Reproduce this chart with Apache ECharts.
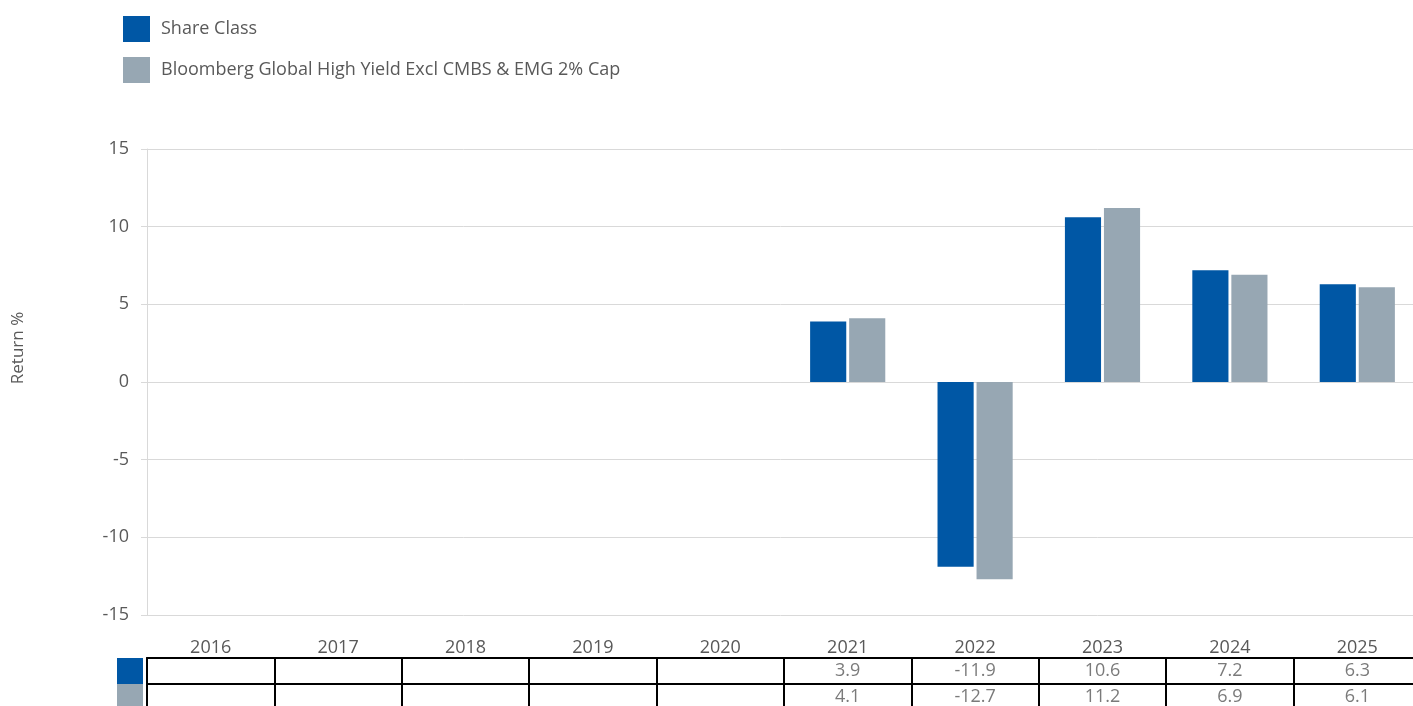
<!DOCTYPE html>
<html>
<head>
<meta charset="utf-8">
<script src="https://cdn.jsdelivr.net/npm/echarts@6/dist/echarts.min.js"></script>
<style>
  html, body { margin: 0; padding: 0; background: #fff; }
  #chart { width: 1413px; height: 706px; }
</style>
</head>
<body>
<div id="chart"></div>
<script>
// data
const years = ["2016", "2017", "2018", "2019", "2020", "2021", "2022", "2023", "2024", "2025"]
const shareClass = [null, null, null, null, null, 3.9, -11.9, 10.6, 7.2, 6.3]
const benchmark = [null, null, null, null, null, 4.1, -12.7, 11.2, 6.9, 6.1]
const shareName = "Share Class"
const benchName = "Bloomberg Global High Yield Excl CMBS & EMG 2% Cap"
const tableRows = ["share", "bench"]

const BLUE = "#0057a5"
const GRAY = "#97a7b3"
const TEXT = "#595959"
const FONT = "Open Sans"

// table cells (only years with values)
function cells(values, row) {
  const out = []
  values.forEach((v, i) => {
    if (v != null) out.push([years[i], row, v])
  })
  return out
}

const chart = echarts.init(document.getElementById("chart"))

const option = {
  animation: false,
  textStyle: { fontFamily: FONT },
  legend: {
    orient: "vertical",
    left: 118,
    top: 11,
    itemWidth: 27,
    itemHeight: 26,
    itemGap: 15,
    icon: "rect",
    data: [shareName, benchName],
    textStyle: { fontSize: 18, color: TEXT, fontFamily: FONT, padding: [2, 0, 0, 6] }
  },
  grid: [
    { left: 147, right: -8, top: 149, height: 466, outerBoundsMode: "none" },
    { left: 147, right: -8, top: 658, height: 52, outerBoundsMode: "none" }
  ],
  xAxis: [
    {
      type: "category",
      gridIndex: 0,
      data: years,
      axisLine: { lineStyle: { color: "#d9d9d9" } },
      axisTick: { show: false },
      axisLabel: { color: TEXT, fontSize: 18, margin: 24 }
    },
    {
      type: "category",
      gridIndex: 1,
      data: years,
      position: "top",
      axisLine: { lineStyle: { color: "#000", width: 2 } },
      axisTick: { show: false },
      axisLabel: { show: false },
      splitLine: { show: true, lineStyle: { color: "#000", width: 2 } }
    }
  ],
  yAxis: [
    {
      type: "value",
      gridIndex: 0,
      min: -15,
      max: 15,
      interval: 5,
      name: "Return %",
      nameLocation: "middle",
      nameGap: 120,
      nameRotate: 90,
      nameTextStyle: { color: TEXT, fontSize: 17, padding: [0, 0, 0, 68] },
      axisLine: { show: true, lineStyle: { color: "#d9d9d9" } },
      axisTick: { show: true, length: 6, lineStyle: { color: "#d9d9d9" } },
      axisLabel: { color: TEXT, fontSize: 18, margin: 18 },
      splitLine: { lineStyle: { color: "#d9d9d9" } }
    },
    {
      type: "category",
      gridIndex: 1,
      data: tableRows,
      inverse: true,
      axisLine: { show: true, lineStyle: { color: "#000", width: 2 } },
      axisTick: { show: false },
      splitLine: { show: true, lineStyle: { color: "#000", width: 2 } },
      axisLabel: {
        margin: 4,
        formatter: v => (v === "share" ? "{s| }" : "{b| }"),
        rich: {
          s: { backgroundColor: BLUE, width: 26, height: 26 },
          b: { backgroundColor: GRAY, width: 26, height: 26 }
        }
      }
    }
  ],
  series: [
    {
      name: shareName,
      type: "bar",
      xAxisIndex: 0,
      yAxisIndex: 0,
      data: shareClass,
      barGap: "8%",
      barCategoryGap: "41%",
      itemStyle: { color: BLUE }
    },
    {
      name: benchName,
      type: "bar",
      xAxisIndex: 0,
      yAxisIndex: 0,
      data: benchmark,
      itemStyle: { color: GRAY }
    },
    {
      type: "scatter",
      xAxisIndex: 1,
      yAxisIndex: 1,
      symbolSize: 0,
      silent: true,
      data: cells(shareClass, "share").concat(cells(benchmark, "bench")),
      label: {
        show: true,
        position: "inside",
        color: TEXT,
        fontSize: 18,
        formatter: p => p.value[2].toFixed(1)
      }
    }
  ]
}

chart.setOption(option)
</script>
</body>
</html>
